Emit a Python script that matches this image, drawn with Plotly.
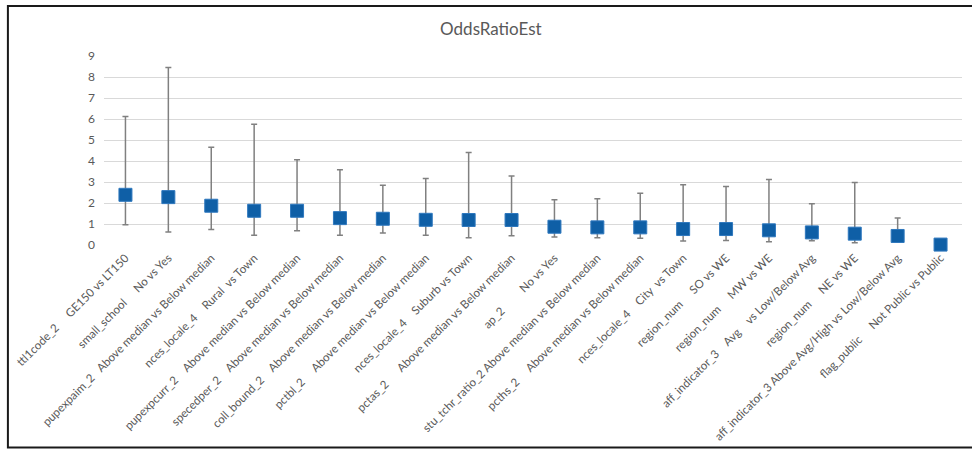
import plotly.graph_objects as go

# Model terms: variable name and contrast level
variables = [
    "ttl1code_2", "small_school", "pupexpaim_2", "nces_locale_4", "pupexpcurr_2",
    "specedper_2", "coll_bound_2", "pctbl_2", "nces_locale_4", "pctas_2",
    "ap_2", "stu_tchr_ratio_2", "pcths_2", "nces_locale_4", "region_num",
    "region_num", "aff_indicator_3", "region_num", "aff_indicator_3", "flag_public",
]
levels = [
    "GE150 vs LT150", "No vs Yes", "Above median vs Below median", "Rural  vs Town",
    "Above median vs Below median", "Above median vs Below median",
    "Above median vs Below median", "Above median vs Below median", "Suburb vs Town",
    "Above median vs Below median", "No vs Yes", "Above median vs Below median",
    "Above median vs Below median", "City  vs Town", "SO vs WE", "MW vs WE",
    "Avg    vs Low/Below Avg", "NE vs WE", "Above Avg/High vs Low/Below Avg",
    "Not Public vs Public",
]
gaps = [5, 5, 3, 4, 4, 4, 4, 5, 4, 6, 9, 1, 5, 4, 5, 5, 4, 5, 1, 5]

odds_ratio = [2.39, 2.28, 1.87, 1.63, 1.63, 1.28, 1.25, 1.20, 1.19, 1.19,
              0.87, 0.84, 0.84, 0.76, 0.76, 0.70, 0.60, 0.54, 0.43, 0.02]
ci_lower = [0.97, 0.62, 0.74, 0.46, 0.68, 0.47, 0.57, 0.47, 0.35, 0.44,
            0.38, 0.35, 0.32, 0.19, 0.22, 0.16, 0.20, 0.11, 0.15, 0.01]
ci_upper = [6.12, 8.45, 4.66, 5.75, 4.06, 3.58, 2.84, 3.17, 4.41, 3.28,
            2.15, 2.20, 2.47, 2.87, 2.79, 3.12, 1.96, 2.98, 1.28, 0.05]

NBSP = "\u00a0"
labels = [
    (v + NBSP * g + lv).replace(" ", NBSP)
    for v, lv, g in zip(variables, levels, gaps)
]
err_plus = [u - o for u, o in zip(ci_upper, odds_ratio)]
err_minus = [o - l for o, l in zip(odds_ratio, ci_lower)]

fig = go.Figure(
    go.Scatter(
        x=list(range(len(labels))),
        y=odds_ratio,
        mode="markers",
        cliponaxis=False,
        marker=dict(symbol="square", size=13, color="#0F5FA6",
                    line=dict(width=1, color="#2F78BE")),
        error_y=dict(type="data", symmetric=False, array=err_plus,
                     arrayminus=err_minus, color="#808080", thickness=1.5, width=3),
        showlegend=False,
    )
)

fig.update_layout(
    width=972, height=450,
    margin=dict(l=104, r=10, t=56, b=205),
    paper_bgcolor="white", plot_bgcolor="white",
    font=dict(family="Lato", color="#595959", size=12),
    title=dict(text="OddsRatioEst", x=0.505, xanchor="center", y=0.935, yanchor="middle",
               font=dict(size=17, color="#595959")),
    xaxis=dict(
        tickmode="array", tickvals=list(range(len(labels))), ticktext=labels,
        tickangle=-45, range=[-0.5, len(labels) - 0.5], showgrid=False,
        zeroline=False, showline=False, ticks="", tickfont=dict(size=11.6),
        ticklabelstandoff=3, automargin=False,
    ),
    yaxis=dict(
        range=[0, 9], dtick=1, showgrid=True, gridcolor="#D9D9D9", gridwidth=1,
        zeroline=False, showline=False, ticks="", tickfont=dict(size=12),
        ticklabelstandoff=8, automargin=False,
    ),
    shapes=[dict(
        type="rect", xref="paper", yref="paper",
        x0=-0.112, x1=1.03, y0=-1.071, y1=1.264,
        line=dict(color="#1A1A1A", width=2), layer="above",
    )],
)

fig.write_html("out.html")
